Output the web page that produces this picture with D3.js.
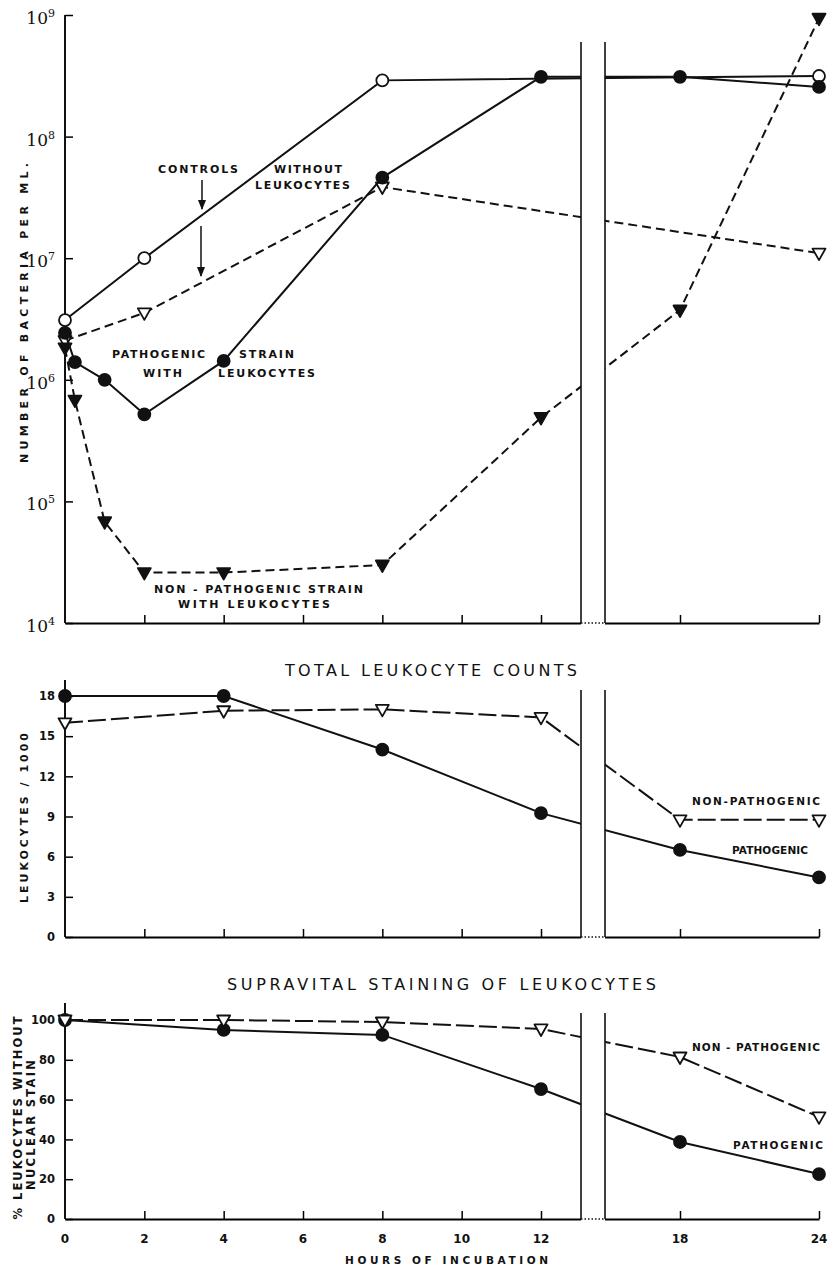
<!DOCTYPE html>
<html>
<head>
<meta charset="utf-8">
<script src="https://cdn.jsdelivr.net/npm/d3@7"></script>
<style>
  body { margin: 0; background: #fff; }
  text { font-family: "DejaVu Sans", sans-serif; fill: #111; }
  .lbl { font-weight: bold; font-size: 10.5px; }
</style>
</head>
<body>
<script>
// hours of incubation
var pathHours = [0, 0.25, 1, 2, 4, 8, 12, 18, 24];
var pathCounts = [2.43e6, 1.4e6, 1.0e6, 5.2e5, 1.43e6, 4.6e7, 3.1e8, 3.1e8, 2.56e8];
var nonHours = [0, 0.25, 1, 2, 4, 8, 12, 18, 24];
var nonCounts = [1.83e6, 6.8e5, 6.8e4, 2.6e4, 2.6e4, 3.0e4, 4.9e5, 3.75e6, 9.4e8];
var ctrlPathHours = [0, 2, 8, 24];
var ctrlPathCounts = [3.1e6, 1.0e7, 2.9e8, 3.15e8];
var ctrlNonHours = [0, 2, 8, 24];
var ctrlNonCounts = [2.1e6, 3.55e6, 3.85e7, 1.1e7];

var leukHours = [0, 4, 8, 12, 18, 24];
var leukPath = [18, 18, 14.0, 9.25, 6.5, 4.45];
var leukNon = [16.0, 16.9, 17.0, 16.4, 8.75, 8.75];

var stainHours = [0, 4, 8, 12, 18, 24];
var stainPath = [100, 95, 92.5, 65.3, 38.7, 22.6];
var stainNon = [100, 100, 99, 95.5, 81.4, 51.3];

var hourTicks = [2, 4, 6, 8, 10, 12, 18, 24];
var hourLabels = [0, 2, 4, 6, 8, 10, 12, 18, 24];
var bactTicks = [1e4, 1e5, 1e6, 1e7, 1e8, 1e9];
var leukTicks = [0, 3, 6, 9, 12, 15, 18];
var stainTicks = [0, 20, 40, 60, 80, 100];

var w = 831, h = 1272;
var breakL = 581, breakR = 605;

var svg = d3.select("body").append("svg")
  .attr("width", w)
  .attr("height", h);

svg.append("defs").append("marker")
  .attr("id", "arrow")
  .attr("viewBox", "0 0 10 10")
  .attr("refX", 9).attr("refY", 5)
  .attr("markerWidth", 7).attr("markerHeight", 7)
  .attr("orient", "auto")
  .append("path")
  .attr("d", "M0,1 L10,5 L0,9 Z")
  .attr("fill", "#111");

// x scale: hours 0-12 wide, 12-24 compressed
var x = d3.scaleLinear()
  .domain([0, 12, 24])
  .range([65, 541, 819]);

var yBact = d3.scaleLog().domain([1e4, 1e9]).range([623, 15]);
var yLeuk = d3.scaleLinear().domain([0, 18]).range([937, 696]);
var yStain = d3.scaleLinear().domain([0, 100]).range([1219, 1020]);

var triDown = "M-6.5,-4.5 L6.5,-4.5 L0,7 Z";

function xAxis(y0) {
  var g = svg.append("g")
    .attr("transform", "translate(0," + y0 + ")")
    .call(d3.axisBottom(x).tickValues(hourTicks).tickSizeInner(-8).tickSizeOuter(0).tickFormat(""));
  g.select(".domain").attr("stroke-width", 2);
  g.selectAll(".tick line").attr("stroke-width", 1.5);
  return g;
}

function yAxis(scale, ticks, top, fmt, fontSize) {
  var g = svg.append("g")
    .attr("transform", "translate(65,0)")
    .call(d3.axisLeft(scale).tickValues(ticks).tickSizeInner(-8).tickSizeOuter(0).tickFormat(fmt));
  g.select(".domain").remove();
  g.selectAll(".tick line").attr("stroke-width", 1.5);
  g.selectAll(".tick text")
    .attr("x", -10)
    .style("font-family", "DejaVu Sans")
    .style("font-weight", "bold")
    .style("font-size", fontSize + "px");
  g.append("line")
    .attr("y1", top).attr("y2", scale.range()[0])
    .attr("stroke", "#111").attr("stroke-width", 2);
  return g;
}

function series(xs, ys, scale, opt) {
  var pts = xs.map(function(d, i) { return [x(d), scale(ys[i])]; });
  var line = d3.line();
  svg.append("path")
    .attr("d", line(pts))
    .attr("fill", "none")
    .attr("stroke", "#111")
    .attr("stroke-width", 2)
    .attr("stroke-dasharray", opt.dash || null);
  var m = svg.append("g").selectAll("path").data(pts).enter();
  if (opt.shape == "circle") {
    m.append("circle")
      .attr("cx", function(d) { return d[0]; })
      .attr("cy", function(d) { return d[1]; })
      .attr("r", 6)
      .attr("fill", opt.filled ? "#111" : "#fff")
      .attr("stroke", "#111").attr("stroke-width", 1.8);
  } else {
    m.append("path")
      .attr("d", triDown)
      .attr("transform", function(d) { return "translate(" + d[0] + "," + d[1] + ")"; })
      .attr("fill", opt.filled ? "#111" : "#fff")
      .attr("stroke", "#111").attr("stroke-width", 1.8)
      .attr("stroke-linejoin", "round");
  }
}

function axisBreak(top, bottom) {
  svg.append("rect")
    .attr("x", breakL).attr("y", top - 10)
    .attr("width", breakR - breakL).attr("height", bottom - top + 12)
    .attr("fill", "#fff");
  [breakL, breakR].forEach(function(bx) {
    svg.append("line")
      .attr("x1", bx).attr("x2", bx)
      .attr("y1", top).attr("y2", bottom)
      .attr("stroke", "#111").attr("stroke-width", 1.6);
  });
  svg.append("line")
    .attr("x1", breakL).attr("x2", breakR)
    .attr("y1", bottom).attr("y2", bottom)
    .attr("stroke", "#111").attr("stroke-width", 1.5)
    .attr("stroke-dasharray", "1.5,2");
}

function label(txt, x0, y0, len, size) {
  var t = svg.append("text")
    .attr("class", "lbl")
    .attr("x", x0).attr("y", y0)
    .text(txt);
  if (size) t.style("font-size", size + "px");
  if (len) t.attr("textLength", len).attr("lengthAdjust", "spacing");
  return t;
}

function vlabel(txt, cx, cy, len, size) {
  svg.append("text")
    .attr("class", "lbl")
    .attr("transform", "translate(" + cx + "," + cy + ") rotate(-90)")
    .attr("text-anchor", "middle")
    .attr("textLength", len).attr("lengthAdjust", "spacing")
    .style("font-size", (size || 10) + "px")
    .text(txt);
}

// ---------- top panel: bacteria ----------
xAxis(623);
var ya = yAxis(yBact, bactTicks, 15, function() { return ""; }, 17);
ya.selectAll(".tick text").each(function(d) {
  var t = d3.select(this).style("font-weight", "normal").style("font-family", "DejaVu Serif");
  t.append("tspan").text("10");
  t.append("tspan").attr("dy", -7).style("font-size", "11px").text(Math.round(Math.log10(d)));
  t.attr("dy", "0.5em");
});

series(ctrlPathHours, ctrlPathCounts, yBact, { shape: "circle", filled: false });
series(ctrlNonHours, ctrlNonCounts, yBact, { shape: "tri", filled: false, dash: "9,5" });
series(nonHours, nonCounts, yBact, { shape: "tri", filled: true, dash: "9,5" });
series(pathHours, pathCounts, yBact, { shape: "circle", filled: true });
axisBreak(42, 623);

vlabel("NUMBER  OF  BACTERIA  PER  ML.", 28, 313, 300, 11);

label("CONTROLS", 158, 173, 80, 11);
label("WITHOUT", 274, 173, 68, 11);
label("LEUKOCYTES", 255, 189, 95, 11);
svg.append("line").attr("x1", 202).attr("x2", 202).attr("y1", 180).attr("y2", 209)
  .attr("stroke", "#111").attr("stroke-width", 1.5).attr("marker-end", "url(#arrow)");
svg.append("line").attr("x1", 201).attr("x2", 201).attr("y1", 226).attr("y2", 276)
  .attr("stroke", "#111").attr("stroke-width", 1.5).attr("marker-end", "url(#arrow)");

label("PATHOGENIC", 112, 358, 93, 11);
label("STRAIN", 239, 358, 55, 11);
label("WITH", 143, 377, 39, 11);
label("LEUKOCYTES", 218, 377, 97, 11);
label("NON - PATHOGENIC  STRAIN", 154, 593, 209, 11);
label("WITH  LEUKOCYTES", 178, 608, 152, 11);

// ---------- middle panel: leukocyte counts ----------
xAxis(937);
yAxis(yLeuk, leukTicks, 680, d3.format("d"), 11.5);
series(leukHours, leukNon, yLeuk, { shape: "tri", filled: false, dash: "18,5" });
series(leukHours, leukPath, yLeuk, { shape: "circle", filled: true });
axisBreak(690, 937);

svg.append("text")
  .attr("x", 285).attr("y", 676)
  .attr("textLength", 292).attr("lengthAdjust", "spacing")
  .style("font-size", "16px")
  .text("TOTAL  LEUKOCYTE  COUNTS");
vlabel("LEUKOCYTES / 1000", 28, 818, 170, 11);
label("NON-PATHOGENIC", 692, 805, 128, 10.5);
label("PATHOGENIC", 732, 854, 76, 10.5);

// ---------- bottom panel: supravital staining ----------
xAxis(1219);
yAxis(yStain, stainTicks, 1003, d3.format("d"), 11.5);
series(stainHours, stainPath, yStain, { shape: "circle", filled: true });
series(stainHours, stainNon, yStain, { shape: "tri", filled: false, dash: "18,5" });
axisBreak(1013, 1219);

svg.append("g").selectAll("text").data(hourLabels).enter().append("text")
  .attr("class", "lbl")
  .attr("x", function(d) { return x(d); })
  .attr("y", 1243)
  .attr("text-anchor", "middle")
  .style("font-size", "12px")
  .text(function(d) { return d; });

svg.append("text")
  .attr("x", 227).attr("y", 990)
  .attr("textLength", 429).attr("lengthAdjust", "spacing")
  .style("font-size", "16px")
  .text("SUPRAVITAL  STAINING  OF  LEUKOCYTES");
vlabel("% LEUKOCYTES  WITHOUT", 22, 1118, 203, 11.5);
vlabel("NUCLEAR  STAIN", 35, 1125, 130, 11.5);
label("NON - PATHOGENIC", 692, 1051, 128, 10.5);
label("PATHOGENIC", 733, 1149, 90, 10.5);
label("HOURS   OF   INCUBATION", 345, 1264, 203, 10.5);
</script>
</body>
</html>
